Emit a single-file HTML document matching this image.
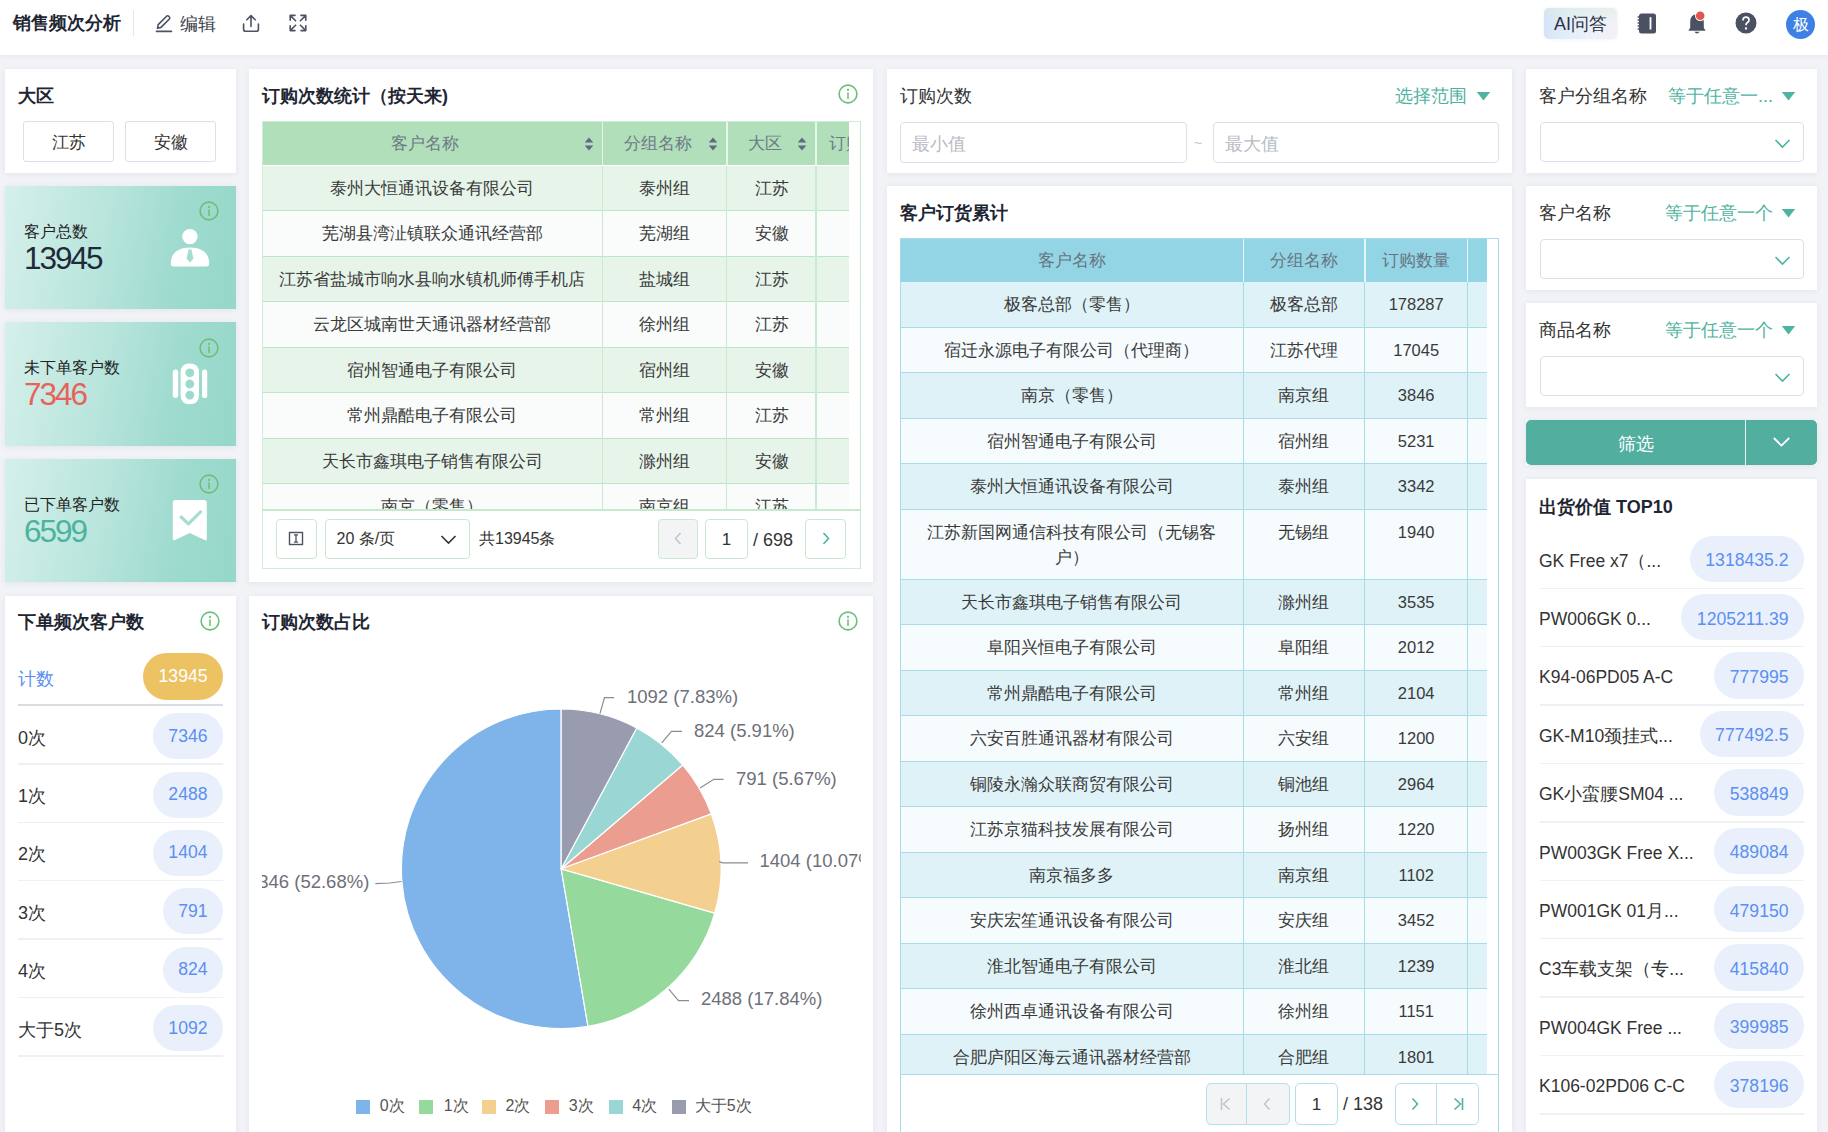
<!DOCTYPE html>
<html><head><meta charset="utf-8">
<style>
*{box-sizing:border-box;margin:0;padding:0}
html,body{width:1828px;height:1132px;overflow:hidden}
body{background:#f2f3f7;font-family:"Liberation Sans",sans-serif;color:#333;position:relative}
.abs{position:absolute}
.hdr{position:absolute;left:0;top:0;width:1828px;height:55px;background:#fff;box-shadow:0 1px 4px rgba(0,0,0,.05)}
.p{position:absolute;background:#fff;box-shadow:0 1px 6px rgba(40,40,90,.07);overflow:hidden}
.t{position:absolute;font-size:18px;font-weight:bold;color:#1f2633;white-space:nowrap;line-height:20px}
.tr{position:absolute;font-size:18px;color:#333;white-space:nowrap;line-height:20px}
.btn{position:absolute;border:1px solid #dcdfe6;border-radius:3px;background:#fff;text-align:center;font-size:17px;line-height:38px;color:#333}
.kl{position:absolute;font-size:16.4px;color:#222;line-height:18px;white-space:nowrap}
.kn{position:absolute;font-size:31.5px;line-height:36px;white-space:nowrap;letter-spacing:-2px}
.pill{position:absolute;border-radius:24px;padding:0 15.5px;font-size:17.6px;display:flex;align-items:center;white-space:nowrap}
.cell{position:absolute;top:0;height:100%;display:flex;justify-content:center;text-align:center;font-size:16px;color:#333;white-space:nowrap}
.teal{color:#4fb3a1}
</style></head><body>
<div class="hdr">
  <div class="t" style="left:13px;top:13px">销售频次分析</div>
  <div class="abs" style="left:133px;top:10px;width:1px;height:26px;background:#e6e6e6"></div>
  <svg class="abs" style="left:154px;top:13px" width="20" height="20" viewBox="0 0 20 20" fill="none" stroke="#4b5262" stroke-width="1.6" stroke-linejoin="round" stroke-linecap="round"><path d="M3.5 15.2 L4.2 11.6 L12.6 3.2 Q13.6 2.3 14.6 3.2 L15.4 4 Q16.3 5 15.4 6 L7 14.4 Z"/><path d="M2.5 18.4 H17.5"/></svg>
  <div class="tr" style="left:180px;top:14px;color:#3a3f4a;font-weight:500">编辑</div>
  <svg class="abs" style="left:241px;top:13px" width="20" height="20" viewBox="0 0 20 20" fill="none" stroke="#4b5262" stroke-width="1.6" stroke-linejoin="round" stroke-linecap="round"><path d="M10 13.5 V3 M5.8 6.8 L10 2.6 L14.2 6.8"/><path d="M2.6 11 V16.2 Q2.6 18.3 4.7 18.3 H15.3 Q17.4 18.3 17.4 16.2 V11"/></svg>
  <svg class="abs" style="left:288px;top:13px" width="20" height="20" viewBox="0 0 20 20" fill="none" stroke="#4b5262" stroke-width="1.6" stroke-linejoin="round" stroke-linecap="round"><path d="M2.2 7.2 V2.4 H7 M2.4 2.6 L7.6 7.8"/><path d="M17.8 7.2 V2.4 H13 M17.6 2.6 L12.4 7.8"/><path d="M2.2 12.8 V17.6 H7 M2.4 17.4 L7.6 12.2"/><path d="M17.8 12.8 V17.6 H13 M17.6 17.4 L12.4 12.2"/></svg>
  <div class="abs" style="left:1544px;top:8px;width:73px;height:31px;border-radius:5px;box-shadow:0 0 3px rgba(205,215,235,.45);background:linear-gradient(180deg,rgba(222,238,222,.55) 0%,rgba(255,255,255,0) 45%),linear-gradient(105deg,#d2e2f8 0%,#e4eefa 40%,#eef2f9 72%,#f5eff5 100%)"></div>
  <div class="tr" style="left:1554px;top:14px;color:#2c3140">AI问答</div>
  <svg class="abs" style="left:1636px;top:12px" width="22" height="23" viewBox="0 0 22 23"><rect x="3" y="1.4" width="17" height="20" rx="2.5" fill="#4a5162"/><rect x="13.6" y="5.2" width="1.8" height="12.3" fill="#fff"/><path d="M1.6 5 H3.5 M1.6 8 H3.5 M1.6 11 H3.5 M1.6 14 H3.5 M1.6 17 H3.5" stroke="#4a5162" stroke-width="1.4"/></svg>
  <svg class="abs" style="left:1686px;top:11px" width="22" height="24" viewBox="0 0 22 24"><path d="M11 3 Q4.2 3.6 4.2 11 V16.8 L2.4 19.8 H19.6 L17.8 16.8 V11 Q17.8 3.6 11 3 Z" fill="#4a5162"/><path d="M8.3 20.8 Q11 24 13.7 20.8 Z" fill="#4a5162"/><circle cx="14.2" cy="4.8" r="5.2" fill="#fff"/><circle cx="14.2" cy="4.8" r="4.3" fill="#e0574f"/></svg>
  <svg class="abs" style="left:1735px;top:12px" width="22" height="22" viewBox="0 0 22 22"><circle cx="11" cy="11" r="10.5" fill="#4a5162"/><path d="M8 8.4 Q8 5.2 11 5.2 Q14 5.2 14 8 Q14 9.7 12.2 10.7 Q11 11.4 11 13.3" fill="none" stroke="#fff" stroke-width="1.7"/><circle cx="11" cy="16.5" r="1.15" fill="#fff"/></svg>
  <div class="abs" style="left:1786px;top:10px;width:29px;height:29px;border-radius:50%;background:#3f80e4;color:#fff;font-size:16px;line-height:29px;text-align:center">极</div>
</div>
<div class="p" style="left:5px;top:69px;width:231px;height:104px">
  <div class="t" style="left:13px;top:17px">大区</div>
  <div class="btn" style="left:18px;top:51.5px;width:91px;height:41px;line-height:42px">江苏</div>
  <div class="btn" style="left:120px;top:51.5px;width:91px;height:41px;line-height:42px">安徽</div>
</div>
<div class="p" style="left:5px;top:186px;width:231px;height:123px;background:linear-gradient(100deg,#d5f0ea 0%,#b6e4db 45%,#9fdbcf 72%,#95d7c9 100%)">
  <div class="kl" style="left:19px;top:36px">客户总数</div>
  <div class="kn" style="left:19px;top:54px;color:#1e2a3a">13945</div>
  <svg class="abs" style="left:194px;top:15px" width="20" height="20" viewBox="0 0 20 20"><circle cx="10" cy="10" r="8.9" fill="none" stroke="#6cbf78" stroke-width="1.6"/><circle cx="10" cy="5.9" r="1.05" fill="#6cbf78"/><rect x="9.25" y="8.4" width="1.5" height="6.6" fill="#6cbf78"/></svg>
  <svg class="abs" style="left:160px;top:42px" width="50" height="40" viewBox="0 0 50 40"><circle cx="24.9" cy="8.6" r="7.7" fill="#fff"/><path d="M5.8 35.6 C5.8 25 13 19.4 25 19.4 C37 19.4 44.2 25 44.2 35.6 Q44.2 38.5 41.3 38.5 H8.7 Q5.8 38.5 5.8 35.6 Z" fill="#fff"/><path d="M23.6 21.6 H26.4 L28.5 30.6 L25 34.6 L21.5 30.6 Z" fill="#a4ddd2"/></svg>
</div>
<div class="p" style="left:5px;top:322px;width:231px;height:124px;background:linear-gradient(100deg,#d5f0ea 0%,#b6e4db 45%,#9fdbcf 72%,#95d7c9 100%)">
  <div class="kl" style="left:19px;top:36px">未下单客户数</div>
  <div class="kn" style="left:19px;top:54px;color:#e8625b">7346</div>
  <svg class="abs" style="left:194px;top:16px" width="20" height="20" viewBox="0 0 20 20"><circle cx="10" cy="10" r="8.9" fill="none" stroke="#6cbf78" stroke-width="1.6"/><circle cx="10" cy="5.9" r="1.05" fill="#6cbf78"/><rect x="9.25" y="8.4" width="1.5" height="6.6" fill="#6cbf78"/></svg>
  <svg class="abs" style="left:165px;top:38px" width="50" height="50" viewBox="0 0 50 50"><rect x="2.8" y="9.4" width="5.4" height="28.6" rx="2.7" fill="#fff"/><rect x="32" y="9.4" width="5.2" height="28.6" rx="2.6" fill="#fff"/><path fill="#fff" fill-rule="evenodd" d="M10.6 12.5 Q10.6 3.5 19.8 3.5 Q29 3.5 29 12.5 V35 Q29 44.3 19.8 44.3 Q10.6 44.3 10.6 35 Z M19.8 8.4 a4.4 4.4 0 1 0 0.01 0 Z M19.8 19.6 a4.4 4.4 0 1 0 0.01 0 Z M19.8 30.7 a4.4 4.4 0 1 0 0.01 0 Z"/></svg>
</div>
<div class="p" style="left:5px;top:459px;width:231px;height:123px;background:linear-gradient(100deg,#d5f0ea 0%,#b6e4db 45%,#9fdbcf 72%,#95d7c9 100%)">
  <div class="kl" style="left:19px;top:36px">已下单客户数</div>
  <div class="kn" style="left:19px;top:54px;color:#4cb39f">6599</div>
  <svg class="abs" style="left:194px;top:15px" width="20" height="20" viewBox="0 0 20 20"><circle cx="10" cy="10" r="8.9" fill="none" stroke="#6cbf78" stroke-width="1.6"/><circle cx="10" cy="5.9" r="1.05" fill="#6cbf78"/><rect x="9.25" y="8.4" width="1.5" height="6.6" fill="#6cbf78"/></svg>
  <svg class="abs" style="left:160px;top:38px" width="50" height="50" viewBox="0 0 50 50"><path d="M10.6 3 Q7.8 3 7.8 5.8 V42 Q7.8 44 10 43 L24.8 36 L39.6 43 Q41.8 44 41.8 42 V5.8 Q41.8 3 39 3 Z" fill="#fff"/><path d="M16.1 20 L23.4 26.9 L35.5 14.9" fill="none" stroke="#a6dcd1" stroke-width="3.2" stroke-linecap="round" stroke-linejoin="round"/></svg>
</div>
<div class="p" style="left:5px;top:596px;width:231px;height:560px">
  <div class="t" style="left:13px;top:16px">下单频次客户数</div>
  <svg class="abs" style="left:195px;top:15px" width="20" height="20" viewBox="0 0 20 20"><circle cx="10" cy="10" r="8.9" fill="none" stroke="#6cbf78" stroke-width="1.6"/><circle cx="10" cy="5.9" r="1.05" fill="#6cbf78"/><rect x="9.25" y="8.4" width="1.5" height="6.6" fill="#6cbf78"/></svg>
  <div class="abs" style="left:13px;top:73px;font-size:18px;color:#5b8ff0;line-height:20px">计数</div>
  <div class="pill" style="right:13px;top:57px;height:47px;background:#edc263;color:#fff">13945</div>
  <div class="abs" style="left:13px;top:108px;width:205px;height:2px;background:#d9dce1"></div>
  <div class="abs" style="left:13px;top:131.6px;font-size:18px;color:#333;line-height:20px">0次</div>
  <div class="pill" style="right:13px;top:117.1px;height:46px;background:#e9f0fc;color:#5b8ff0">7346</div>
  <div class="abs" style="left:13px;top:167.1px;width:205px;height:1.5px;background:#eef0f3"></div>
  <div class="abs" style="left:13px;top:190.0px;font-size:18px;color:#333;line-height:20px">1次</div>
  <div class="pill" style="right:13px;top:175.5px;height:46px;background:#e9f0fc;color:#5b8ff0">2488</div>
  <div class="abs" style="left:13px;top:225.5px;width:205px;height:1.5px;background:#eef0f3"></div>
  <div class="abs" style="left:13px;top:248.4px;font-size:18px;color:#333;line-height:20px">2次</div>
  <div class="pill" style="right:13px;top:233.9px;height:46px;background:#e9f0fc;color:#5b8ff0">1404</div>
  <div class="abs" style="left:13px;top:283.9px;width:205px;height:1.5px;background:#eef0f3"></div>
  <div class="abs" style="left:13px;top:306.8px;font-size:18px;color:#333;line-height:20px">3次</div>
  <div class="pill" style="right:13px;top:292.3px;height:46px;background:#e9f0fc;color:#5b8ff0">791</div>
  <div class="abs" style="left:13px;top:342.3px;width:205px;height:1.5px;background:#eef0f3"></div>
  <div class="abs" style="left:13px;top:365.2px;font-size:18px;color:#333;line-height:20px">4次</div>
  <div class="pill" style="right:13px;top:350.7px;height:46px;background:#e9f0fc;color:#5b8ff0">824</div>
  <div class="abs" style="left:13px;top:400.7px;width:205px;height:1.5px;background:#eef0f3"></div>
  <div class="abs" style="left:13px;top:423.6px;font-size:18px;color:#333;line-height:20px">大于5次</div>
  <div class="pill" style="right:13px;top:409.1px;height:46px;background:#e9f0fc;color:#5b8ff0">1092</div>
  <div class="abs" style="left:13px;top:459.1px;width:205px;height:1.5px;background:#eef0f3"></div>
</div>
<div class="p" style="left:249px;top:69px;width:624px;height:513px">
  <div class="t" style="left:13px;top:17px">订购次数统计（按天来)</div>
<svg class="abs" style="left:589px;top:15px" width="20" height="20" viewBox="0 0 20 20"><circle cx="10" cy="10" r="8.9" fill="none" stroke="#6cbf78" stroke-width="1.6"/><circle cx="10" cy="5.9" r="1.05" fill="#6cbf78"/><rect x="9.25" y="8.4" width="1.5" height="6.6" fill="#6cbf78"/></svg>
  <div class="abs" style="left:13px;top:52px;width:599px;height:448px;border:1px solid #d2ecd8;border-right-color:#c6e8ce"></div>
<div class="abs" style="left:14px;top:53px;width:586px;height:43px;background:#b1dfba;overflow:hidden">
<div class="abs" style="left:-8.0px;top:0;width:340.7px;height:43px;line-height:43px;text-align:center;font-size:17px;color:#6e7b87">客户名称</div>
<svg class="abs" style="left:320.7px;top:15px" width="10" height="14" viewBox="0 0 10 14"><path d="M5 0.6 L9.3 5.6 H0.7 Z M5 13.4 L9.3 8.4 H0.7 Z" fill="#5f6b80"/></svg>
<div class="abs" style="left:338.7px;top:0;width:1.5px;height:43px;background:#e8f5ea"></div>
<div class="abs" style="left:332.7px;top:0;width:124.3px;height:43px;line-height:43px;text-align:center;font-size:17px;color:#6e7b87">分组名称</div>
<svg class="abs" style="left:445.0px;top:15px" width="10" height="14" viewBox="0 0 10 14"><path d="M5 0.6 L9.3 5.6 H0.7 Z M5 13.4 L9.3 8.4 H0.7 Z" fill="#5f6b80"/></svg>
<div class="abs" style="left:463.0px;top:0;width:1.5px;height:43px;background:#e8f5ea"></div>
<div class="abs" style="left:457.0px;top:0;width:89.4px;height:43px;line-height:43px;text-align:center;font-size:17px;color:#6e7b87">大区</div>
<svg class="abs" style="left:534.4px;top:15px" width="10" height="14" viewBox="0 0 10 14"><path d="M5 0.6 L9.3 5.6 H0.7 Z M5 13.4 L9.3 8.4 H0.7 Z" fill="#5f6b80"/></svg>
<div class="abs" style="left:552.4px;top:0;width:1.5px;height:43px;background:#e8f5ea"></div>
<div class="abs" style="left:566.4px;top:0;line-height:43px;font-size:17px;color:#6e7b87;white-space:nowrap">订购次数</div>
</div>
<div class="abs" style="left:14px;top:96px;width:586px;height:2px;background:#fff"></div>
<div class="abs" style="left:14px;top:97px;width:586px;height:343px;overflow:hidden">
<div class="abs" style="left:0;top:-0.5px;width:586px;height:45.5px;background:#e6f4ea;border-bottom:1.5px solid #bfe5c8">
<div class="abs" style="left:-1.0px;top:0;width:340.7px;height:45px;line-height:45px;text-align:center;font-size:16.5px;color:#3a3a3a;white-space:nowrap">泰州大恒通讯设备有限公司</div>
<div class="abs" style="left:338.7px;top:0;width:1.2px;height:45.5px;background:#c9eacf"></div>
<div class="abs" style="left:339.7px;top:0;width:124.3px;height:45px;line-height:45px;text-align:center;font-size:16.5px;color:#3a3a3a;white-space:nowrap">泰州组</div>
<div class="abs" style="left:463.0px;top:0;width:1.2px;height:45.5px;background:#c9eacf"></div>
<div class="abs" style="left:464.0px;top:0;width:89.4px;height:45px;line-height:45px;text-align:center;font-size:16.5px;color:#3a3a3a;white-space:nowrap">江苏</div>
<div class="abs" style="left:552.4px;top:0;width:1.2px;height:45.5px;background:#c9eacf"></div>
</div>
<div class="abs" style="left:0;top:45.0px;width:586px;height:45.5px;background:#f9fcfa;border-bottom:1.5px solid #bfe5c8">
<div class="abs" style="left:-1.0px;top:0;width:340.7px;height:45px;line-height:45px;text-align:center;font-size:16.5px;color:#3a3a3a;white-space:nowrap">芜湖县湾沚镇联众通讯经营部</div>
<div class="abs" style="left:338.7px;top:0;width:1.2px;height:45.5px;background:#c9eacf"></div>
<div class="abs" style="left:339.7px;top:0;width:124.3px;height:45px;line-height:45px;text-align:center;font-size:16.5px;color:#3a3a3a;white-space:nowrap">芜湖组</div>
<div class="abs" style="left:463.0px;top:0;width:1.2px;height:45.5px;background:#c9eacf"></div>
<div class="abs" style="left:464.0px;top:0;width:89.4px;height:45px;line-height:45px;text-align:center;font-size:16.5px;color:#3a3a3a;white-space:nowrap">安徽</div>
<div class="abs" style="left:552.4px;top:0;width:1.2px;height:45.5px;background:#c9eacf"></div>
</div>
<div class="abs" style="left:0;top:90.5px;width:586px;height:45.5px;background:#e6f4ea;border-bottom:1.5px solid #bfe5c8">
<div class="abs" style="left:-1.0px;top:0;width:340.7px;height:45px;line-height:45px;text-align:center;font-size:16.5px;color:#3a3a3a;white-space:nowrap">江苏省盐城市响水县响水镇机师傅手机店</div>
<div class="abs" style="left:338.7px;top:0;width:1.2px;height:45.5px;background:#c9eacf"></div>
<div class="abs" style="left:339.7px;top:0;width:124.3px;height:45px;line-height:45px;text-align:center;font-size:16.5px;color:#3a3a3a;white-space:nowrap">盐城组</div>
<div class="abs" style="left:463.0px;top:0;width:1.2px;height:45.5px;background:#c9eacf"></div>
<div class="abs" style="left:464.0px;top:0;width:89.4px;height:45px;line-height:45px;text-align:center;font-size:16.5px;color:#3a3a3a;white-space:nowrap">江苏</div>
<div class="abs" style="left:552.4px;top:0;width:1.2px;height:45.5px;background:#c9eacf"></div>
</div>
<div class="abs" style="left:0;top:136.0px;width:586px;height:45.5px;background:#f9fcfa;border-bottom:1.5px solid #bfe5c8">
<div class="abs" style="left:-1.0px;top:0;width:340.7px;height:45px;line-height:45px;text-align:center;font-size:16.5px;color:#3a3a3a;white-space:nowrap">云龙区城南世天通讯器材经营部</div>
<div class="abs" style="left:338.7px;top:0;width:1.2px;height:45.5px;background:#c9eacf"></div>
<div class="abs" style="left:339.7px;top:0;width:124.3px;height:45px;line-height:45px;text-align:center;font-size:16.5px;color:#3a3a3a;white-space:nowrap">徐州组</div>
<div class="abs" style="left:463.0px;top:0;width:1.2px;height:45.5px;background:#c9eacf"></div>
<div class="abs" style="left:464.0px;top:0;width:89.4px;height:45px;line-height:45px;text-align:center;font-size:16.5px;color:#3a3a3a;white-space:nowrap">江苏</div>
<div class="abs" style="left:552.4px;top:0;width:1.2px;height:45.5px;background:#c9eacf"></div>
</div>
<div class="abs" style="left:0;top:181.5px;width:586px;height:45.5px;background:#e6f4ea;border-bottom:1.5px solid #bfe5c8">
<div class="abs" style="left:-1.0px;top:0;width:340.7px;height:45px;line-height:45px;text-align:center;font-size:16.5px;color:#3a3a3a;white-space:nowrap">宿州智通电子有限公司</div>
<div class="abs" style="left:338.7px;top:0;width:1.2px;height:45.5px;background:#c9eacf"></div>
<div class="abs" style="left:339.7px;top:0;width:124.3px;height:45px;line-height:45px;text-align:center;font-size:16.5px;color:#3a3a3a;white-space:nowrap">宿州组</div>
<div class="abs" style="left:463.0px;top:0;width:1.2px;height:45.5px;background:#c9eacf"></div>
<div class="abs" style="left:464.0px;top:0;width:89.4px;height:45px;line-height:45px;text-align:center;font-size:16.5px;color:#3a3a3a;white-space:nowrap">安徽</div>
<div class="abs" style="left:552.4px;top:0;width:1.2px;height:45.5px;background:#c9eacf"></div>
</div>
<div class="abs" style="left:0;top:227.0px;width:586px;height:45.5px;background:#f9fcfa;border-bottom:1.5px solid #bfe5c8">
<div class="abs" style="left:-1.0px;top:0;width:340.7px;height:45px;line-height:45px;text-align:center;font-size:16.5px;color:#3a3a3a;white-space:nowrap">常州鼎酷电子有限公司</div>
<div class="abs" style="left:338.7px;top:0;width:1.2px;height:45.5px;background:#c9eacf"></div>
<div class="abs" style="left:339.7px;top:0;width:124.3px;height:45px;line-height:45px;text-align:center;font-size:16.5px;color:#3a3a3a;white-space:nowrap">常州组</div>
<div class="abs" style="left:463.0px;top:0;width:1.2px;height:45.5px;background:#c9eacf"></div>
<div class="abs" style="left:464.0px;top:0;width:89.4px;height:45px;line-height:45px;text-align:center;font-size:16.5px;color:#3a3a3a;white-space:nowrap">江苏</div>
<div class="abs" style="left:552.4px;top:0;width:1.2px;height:45.5px;background:#c9eacf"></div>
</div>
<div class="abs" style="left:0;top:272.5px;width:586px;height:45.5px;background:#e6f4ea;border-bottom:1.5px solid #bfe5c8">
<div class="abs" style="left:-1.0px;top:0;width:340.7px;height:45px;line-height:45px;text-align:center;font-size:16.5px;color:#3a3a3a;white-space:nowrap">天长市鑫琪电子销售有限公司</div>
<div class="abs" style="left:338.7px;top:0;width:1.2px;height:45.5px;background:#c9eacf"></div>
<div class="abs" style="left:339.7px;top:0;width:124.3px;height:45px;line-height:45px;text-align:center;font-size:16.5px;color:#3a3a3a;white-space:nowrap">滁州组</div>
<div class="abs" style="left:463.0px;top:0;width:1.2px;height:45.5px;background:#c9eacf"></div>
<div class="abs" style="left:464.0px;top:0;width:89.4px;height:45px;line-height:45px;text-align:center;font-size:16.5px;color:#3a3a3a;white-space:nowrap">安徽</div>
<div class="abs" style="left:552.4px;top:0;width:1.2px;height:45.5px;background:#c9eacf"></div>
</div>
<div class="abs" style="left:0;top:318.0px;width:586px;height:45.5px;background:#f9fcfa;border-bottom:1.5px solid #bfe5c8">
<div class="abs" style="left:-1.0px;top:0;width:340.7px;height:45px;line-height:45px;text-align:center;font-size:16.5px;color:#3a3a3a;white-space:nowrap">南京（零售）</div>
<div class="abs" style="left:338.7px;top:0;width:1.2px;height:45.5px;background:#c9eacf"></div>
<div class="abs" style="left:339.7px;top:0;width:124.3px;height:45px;line-height:45px;text-align:center;font-size:16.5px;color:#3a3a3a;white-space:nowrap">南京组</div>
<div class="abs" style="left:463.0px;top:0;width:1.2px;height:45.5px;background:#c9eacf"></div>
<div class="abs" style="left:464.0px;top:0;width:89.4px;height:45px;line-height:45px;text-align:center;font-size:16.5px;color:#3a3a3a;white-space:nowrap">江苏</div>
<div class="abs" style="left:552.4px;top:0;width:1.2px;height:45.5px;background:#c9eacf"></div>
</div>
</div>
<div class="abs" style="left:13px;top:440px;width:599px;height:1.5px;background:#c6e8ce"></div>
<div class="btn" style="left:27px;top:449.5px;width:41px;height:40px;border-color:#c8e9cf;border-radius:4px"></div>
<svg class="abs" style="left:39px;top:462px" width="16" height="15" viewBox="0 0 16 15"><rect x="1.5" y="1.5" width="13" height="12" fill="none" stroke="#4b5262" stroke-width="1.4"/><path d="M8 3.5 V11.5 M6 3.8 H10 M6 11.2 H10" stroke="#4b5262" stroke-width="1.3"/></svg>
<div class="btn" style="left:75.5px;top:449.5px;width:145px;height:40px;border-color:#c8e9cf;border-radius:4px;text-align:left;padding-left:11px;font-size:16px;color:#333">20 条/页</div>
<svg class="abs" style="left:191px;top:465px" width="17" height="11" viewBox="0 0 17 11"><path d="M1.5 2 L8.5 9 L15.5 2" fill="none" stroke="#333" stroke-width="1.6"/></svg>
<div class="abs" style="left:230px;top:460px;font-size:16px;line-height:20px;color:#333">共13945条</div>
<div class="btn" style="left:409px;top:449.5px;width:40px;height:40px;border-color:#c8e9cf;border-radius:4px;background:#f3f4f6"></div>
<svg class="abs" style="left:424px;top:462px" width="10" height="15" viewBox="0 0 10 15"><path d="M7.5 2 L2.5 7.5 L7.5 13" fill="none" stroke="#c0c4cc" stroke-width="1.5"/></svg>
<div class="btn" style="left:456px;top:449.5px;width:43px;height:40px;border-color:#c8e9cf;border-radius:4px;font-size:17px;line-height:40px">1</div>
<div class="abs" style="left:504px;top:461px;font-size:18px;line-height:20px;color:#333">/ 698</div>
<div class="btn" style="left:556px;top:449.5px;width:41px;height:40px;border-color:#c8e9cf;border-radius:4px"></div>
<svg class="abs" style="left:572px;top:462px" width="10" height="15" viewBox="0 0 10 15"><path d="M2.5 2 L7.5 7.5 L2.5 13" fill="none" stroke="#4fb3a1" stroke-width="1.6"/></svg>
</div>
<div class="p" style="left:249px;top:596px;width:624px;height:560px">
  <div class="t" style="left:13px;top:16px">订购次数占比</div>
<svg class="abs" style="left:589px;top:15px" width="20" height="20" viewBox="0 0 20 20"><circle cx="10" cy="10" r="8.9" fill="none" stroke="#6cbf78" stroke-width="1.6"/><circle cx="10" cy="5.9" r="1.05" fill="#6cbf78"/><rect x="9.25" y="8.4" width="1.5" height="6.6" fill="#6cbf78"/></svg>
<div class="abs" style="left:13px;top:0;width:599px;height:560px;overflow:hidden"><svg class="abs" style="left:-13px;top:0" width="624" height="560" viewBox="0 0 624 560">
<path d="M312.20 272.80 L312.20 113.00 A159.8 159.8 0 1 0 338.97 430.34 Z" fill="#7eb4e9" stroke="#fff" stroke-width="1.2" stroke-linejoin="round"/>
<path d="M312.20 272.80 L338.97 430.34 A159.8 159.8 0 0 0 465.71 317.19 Z" fill="#95da9c" stroke="#fff" stroke-width="1.2" stroke-linejoin="round"/>
<path d="M312.20 272.80 L465.71 317.19 A159.8 159.8 0 0 0 462.25 217.84 Z" fill="#f3d08f" stroke="#fff" stroke-width="1.2" stroke-linejoin="round"/>
<path d="M312.20 272.80 L462.25 217.84 A159.8 159.8 0 0 0 433.65 168.94 Z" fill="#eb9d8f" stroke="#fff" stroke-width="1.2" stroke-linejoin="round"/>
<path d="M312.20 272.80 L433.65 168.94 A159.8 159.8 0 0 0 387.69 131.96 Z" fill="#9ad6d3" stroke="#fff" stroke-width="1.2" stroke-linejoin="round"/>
<path d="M312.20 272.80 L387.69 131.96 A159.8 159.8 0 0 0 312.20 113.00 Z" fill="#999cae" stroke="#fff" stroke-width="1.2" stroke-linejoin="round"/>
<polyline points="351.0,117.3 355.5,101.7 365.0,101.7" fill="none" stroke="#8a8d96" stroke-width="1.2"/>
<text x="378.0" y="107.3" font-size="18.5" fill="#6e7079" text-anchor="start" font-family="Liberation Sans, sans-serif">1092 (7.83%)</text>
<polyline points="412.8,146.8 422.5,135.4 433.0,135.4" fill="none" stroke="#8a8d96" stroke-width="1.2"/>
<text x="445.0" y="140.8" font-size="18.5" fill="#6e7079" text-anchor="start" font-family="Liberation Sans, sans-serif">824 (5.91%)</text>
<polyline points="451.0,192.0 464.9,183.3 474.6,183.3" fill="none" stroke="#8a8d96" stroke-width="1.2"/>
<text x="487.0" y="188.8" font-size="18.5" fill="#6e7079" text-anchor="start" font-family="Liberation Sans, sans-serif">791 (5.67%)</text>
<polyline points="470.0,265.5 473.6,266.8 499.0,266.8" fill="none" stroke="#8a8d96" stroke-width="1.2"/>
<text x="510.5" y="271.3" font-size="18.5" fill="#6e7079" text-anchor="start" font-family="Liberation Sans, sans-serif">1404 (10.07%)</text>
<polyline points="419.8,393.2 429.5,404.7 440.0,404.7" fill="none" stroke="#8a8d96" stroke-width="1.2"/>
<text x="452.0" y="408.8" font-size="18.5" fill="#6e7079" text-anchor="start" font-family="Liberation Sans, sans-serif">2488 (17.84%)</text>
<polyline points="152.5,285.5 141.0,287.0 126.3,287.6" fill="none" stroke="#8a8d96" stroke-width="1.2"/>
<text x="120.3" y="291.8" font-size="18.5" fill="#6e7079" text-anchor="end" font-family="Liberation Sans, sans-serif">7346 (52.68%)</text>
</svg></div>
<div class="abs" style="left:106.5px;top:503.7px;width:14px;height:14px;background:#7eb4e9"></div><div class="abs" style="left:130.8px;top:500px;font-size:16px;line-height:20px;color:#555;white-space:nowrap">0次</div>
<div class="abs" style="left:170.4px;top:503.7px;width:14px;height:14px;background:#95da9c"></div><div class="abs" style="left:194.7px;top:500px;font-size:16px;line-height:20px;color:#555;white-space:nowrap">1次</div>
<div class="abs" style="left:233.2px;top:503.7px;width:14px;height:14px;background:#f3d08f"></div><div class="abs" style="left:256.5px;top:500px;font-size:16px;line-height:20px;color:#555;white-space:nowrap">2次</div>
<div class="abs" style="left:295.8px;top:503.7px;width:14px;height:14px;background:#eb9d8f"></div><div class="abs" style="left:319.7px;top:500px;font-size:16px;line-height:20px;color:#555;white-space:nowrap">3次</div>
<div class="abs" style="left:359.7px;top:503.7px;width:14px;height:14px;background:#9ad6d3"></div><div class="abs" style="left:383.3px;top:500px;font-size:16px;line-height:20px;color:#555;white-space:nowrap">4次</div>
<div class="abs" style="left:422.5px;top:503.7px;width:14px;height:14px;background:#999cae"></div><div class="abs" style="left:445.8px;top:500px;font-size:16px;line-height:20px;color:#555;white-space:nowrap">大于5次</div>
</div>
<div class="p" style="left:887px;top:69px;width:625px;height:104px">
  <div class="tr" style="left:13px;top:17px">订购次数</div>
  <div class="tr teal" style="left:507.5px;top:17px">选择范围</div>
  <svg class="abs" style="left:588.5px;top:22px" width="15" height="10" viewBox="0 0 15 10"><path d="M0.8 1 H14.2 L7.5 9.4 Z" fill="#4fb3a1"/></svg>
  <div class="btn" style="left:13px;top:52.5px;width:287px;height:41px;border-radius:4px;text-align:left;padding-left:11px;padding-top:2px;color:#b8bcc4;font-size:17.5px">最小值</div>
  <div class="abs" style="left:307px;top:66px;font-size:14px;color:#c0c4cc">~</div>
  <div class="btn" style="left:326px;top:52.5px;width:286px;height:41px;border-radius:4px;text-align:left;padding-left:11px;padding-top:2px;color:#b8bcc4;font-size:17.5px">最大值</div>
</div>
<div class="p" style="left:887px;top:186px;width:625px;height:970px">
  <div class="t" style="left:13px;top:17px">客户订货累计</div>
<div class="abs" style="left:13px;top:52px;width:599.2px;height:902px;border:1px solid #a8dbe8"></div>
<div class="abs" style="left:14px;top:53px;width:586px;height:43px;background:#94d5e5"></div>
<div class="abs" style="left:13.5px;top:53px;width:342.7px;height:43px;line-height:43px;text-align:center;font-size:17px;color:#667583">客户名称</div>
<div class="abs" style="left:355.5px;top:53px;width:1.5px;height:43px;background:#e6f5f9"></div>
<div class="abs" style="left:356.2px;top:53px;width:121.6px;height:43px;line-height:43px;text-align:center;font-size:17px;color:#667583">分组名称</div>
<div class="abs" style="left:477.1px;top:53px;width:1.5px;height:43px;background:#e6f5f9"></div>
<div class="abs" style="left:477.8px;top:53px;width:102.8px;height:43px;line-height:43px;text-align:center;font-size:17px;color:#667583">订购数量</div>
<div class="abs" style="left:579.9px;top:53px;width:1.5px;height:43px;background:#e6f5f9"></div>
<div class="abs" style="left:14px;top:96px;width:586px;height:792px;overflow:hidden">
<div class="abs" style="left:0;top:0.0px;width:586px;height:45.5px;background:#dff2f7;border-bottom:1.5px solid #a9dbe9">
<div class="abs" style="left:-0.5px;top:10px;width:342.7px;line-height:25px;text-align:center;font-size:16.5px;color:#3a3a3a">极客总部（零售）</div>
<div class="abs" style="left:341.6px;top:0;width:1.2px;height:45.5px;background:#a9dbe9"></div>
<div class="abs" style="left:342.2px;top:10px;width:121.6px;line-height:25px;text-align:center;font-size:16.5px;color:#3a3a3a">极客总部</div>
<div class="abs" style="left:463.2px;top:0;width:1.2px;height:45.5px;background:#a9dbe9"></div>
<div class="abs" style="left:463.8px;top:10px;width:102.8px;line-height:25px;text-align:center;font-size:16.5px;color:#3a3a3a">178287</div>
<div class="abs" style="left:566.0px;top:0;width:1.2px;height:45.5px;background:#a9dbe9"></div>
</div>
<div class="abs" style="left:0;top:45.5px;width:586px;height:45.5px;background:#f6fbfd;border-bottom:1.5px solid #a9dbe9">
<div class="abs" style="left:-0.5px;top:10px;width:342.7px;line-height:25px;text-align:center;font-size:16.5px;color:#3a3a3a">宿迁永源电子有限公司（代理商）</div>
<div class="abs" style="left:341.6px;top:0;width:1.2px;height:45.5px;background:#a9dbe9"></div>
<div class="abs" style="left:342.2px;top:10px;width:121.6px;line-height:25px;text-align:center;font-size:16.5px;color:#3a3a3a">江苏代理</div>
<div class="abs" style="left:463.2px;top:0;width:1.2px;height:45.5px;background:#a9dbe9"></div>
<div class="abs" style="left:463.8px;top:10px;width:102.8px;line-height:25px;text-align:center;font-size:16.5px;color:#3a3a3a">17045</div>
<div class="abs" style="left:566.0px;top:0;width:1.2px;height:45.5px;background:#a9dbe9"></div>
</div>
<div class="abs" style="left:0;top:91.0px;width:586px;height:45.5px;background:#dff2f7;border-bottom:1.5px solid #a9dbe9">
<div class="abs" style="left:-0.5px;top:10px;width:342.7px;line-height:25px;text-align:center;font-size:16.5px;color:#3a3a3a">南京（零售）</div>
<div class="abs" style="left:341.6px;top:0;width:1.2px;height:45.5px;background:#a9dbe9"></div>
<div class="abs" style="left:342.2px;top:10px;width:121.6px;line-height:25px;text-align:center;font-size:16.5px;color:#3a3a3a">南京组</div>
<div class="abs" style="left:463.2px;top:0;width:1.2px;height:45.5px;background:#a9dbe9"></div>
<div class="abs" style="left:463.8px;top:10px;width:102.8px;line-height:25px;text-align:center;font-size:16.5px;color:#3a3a3a">3846</div>
<div class="abs" style="left:566.0px;top:0;width:1.2px;height:45.5px;background:#a9dbe9"></div>
</div>
<div class="abs" style="left:0;top:136.5px;width:586px;height:45.5px;background:#f6fbfd;border-bottom:1.5px solid #a9dbe9">
<div class="abs" style="left:-0.5px;top:10px;width:342.7px;line-height:25px;text-align:center;font-size:16.5px;color:#3a3a3a">宿州智通电子有限公司</div>
<div class="abs" style="left:341.6px;top:0;width:1.2px;height:45.5px;background:#a9dbe9"></div>
<div class="abs" style="left:342.2px;top:10px;width:121.6px;line-height:25px;text-align:center;font-size:16.5px;color:#3a3a3a">宿州组</div>
<div class="abs" style="left:463.2px;top:0;width:1.2px;height:45.5px;background:#a9dbe9"></div>
<div class="abs" style="left:463.8px;top:10px;width:102.8px;line-height:25px;text-align:center;font-size:16.5px;color:#3a3a3a">5231</div>
<div class="abs" style="left:566.0px;top:0;width:1.2px;height:45.5px;background:#a9dbe9"></div>
</div>
<div class="abs" style="left:0;top:182.0px;width:586px;height:45.5px;background:#dff2f7;border-bottom:1.5px solid #a9dbe9">
<div class="abs" style="left:-0.5px;top:10px;width:342.7px;line-height:25px;text-align:center;font-size:16.5px;color:#3a3a3a">泰州大恒通讯设备有限公司</div>
<div class="abs" style="left:341.6px;top:0;width:1.2px;height:45.5px;background:#a9dbe9"></div>
<div class="abs" style="left:342.2px;top:10px;width:121.6px;line-height:25px;text-align:center;font-size:16.5px;color:#3a3a3a">泰州组</div>
<div class="abs" style="left:463.2px;top:0;width:1.2px;height:45.5px;background:#a9dbe9"></div>
<div class="abs" style="left:463.8px;top:10px;width:102.8px;line-height:25px;text-align:center;font-size:16.5px;color:#3a3a3a">3342</div>
<div class="abs" style="left:566.0px;top:0;width:1.2px;height:45.5px;background:#a9dbe9"></div>
</div>
<div class="abs" style="left:0;top:227.5px;width:586px;height:70.4px;background:#f6fbfd;border-bottom:1.5px solid #a9dbe9">
<div class="abs" style="left:-0.5px;top:10px;width:342.7px;line-height:25px;text-align:center;font-size:16.5px;color:#3a3a3a">江苏新国网通信科技有限公司（无锡客<br>户）</div>
<div class="abs" style="left:341.6px;top:0;width:1.2px;height:70.4px;background:#a9dbe9"></div>
<div class="abs" style="left:342.2px;top:10px;width:121.6px;line-height:25px;text-align:center;font-size:16.5px;color:#3a3a3a">无锡组</div>
<div class="abs" style="left:463.2px;top:0;width:1.2px;height:70.4px;background:#a9dbe9"></div>
<div class="abs" style="left:463.8px;top:10px;width:102.8px;line-height:25px;text-align:center;font-size:16.5px;color:#3a3a3a">1940</div>
<div class="abs" style="left:566.0px;top:0;width:1.2px;height:70.4px;background:#a9dbe9"></div>
</div>
<div class="abs" style="left:0;top:297.9px;width:586px;height:45.5px;background:#dff2f7;border-bottom:1.5px solid #a9dbe9">
<div class="abs" style="left:-0.5px;top:10px;width:342.7px;line-height:25px;text-align:center;font-size:16.5px;color:#3a3a3a">天长市鑫琪电子销售有限公司</div>
<div class="abs" style="left:341.6px;top:0;width:1.2px;height:45.5px;background:#a9dbe9"></div>
<div class="abs" style="left:342.2px;top:10px;width:121.6px;line-height:25px;text-align:center;font-size:16.5px;color:#3a3a3a">滁州组</div>
<div class="abs" style="left:463.2px;top:0;width:1.2px;height:45.5px;background:#a9dbe9"></div>
<div class="abs" style="left:463.8px;top:10px;width:102.8px;line-height:25px;text-align:center;font-size:16.5px;color:#3a3a3a">3535</div>
<div class="abs" style="left:566.0px;top:0;width:1.2px;height:45.5px;background:#a9dbe9"></div>
</div>
<div class="abs" style="left:0;top:343.4px;width:586px;height:45.5px;background:#f6fbfd;border-bottom:1.5px solid #a9dbe9">
<div class="abs" style="left:-0.5px;top:10px;width:342.7px;line-height:25px;text-align:center;font-size:16.5px;color:#3a3a3a">阜阳兴恒电子有限公司</div>
<div class="abs" style="left:341.6px;top:0;width:1.2px;height:45.5px;background:#a9dbe9"></div>
<div class="abs" style="left:342.2px;top:10px;width:121.6px;line-height:25px;text-align:center;font-size:16.5px;color:#3a3a3a">阜阳组</div>
<div class="abs" style="left:463.2px;top:0;width:1.2px;height:45.5px;background:#a9dbe9"></div>
<div class="abs" style="left:463.8px;top:10px;width:102.8px;line-height:25px;text-align:center;font-size:16.5px;color:#3a3a3a">2012</div>
<div class="abs" style="left:566.0px;top:0;width:1.2px;height:45.5px;background:#a9dbe9"></div>
</div>
<div class="abs" style="left:0;top:388.9px;width:586px;height:45.5px;background:#dff2f7;border-bottom:1.5px solid #a9dbe9">
<div class="abs" style="left:-0.5px;top:10px;width:342.7px;line-height:25px;text-align:center;font-size:16.5px;color:#3a3a3a">常州鼎酷电子有限公司</div>
<div class="abs" style="left:341.6px;top:0;width:1.2px;height:45.5px;background:#a9dbe9"></div>
<div class="abs" style="left:342.2px;top:10px;width:121.6px;line-height:25px;text-align:center;font-size:16.5px;color:#3a3a3a">常州组</div>
<div class="abs" style="left:463.2px;top:0;width:1.2px;height:45.5px;background:#a9dbe9"></div>
<div class="abs" style="left:463.8px;top:10px;width:102.8px;line-height:25px;text-align:center;font-size:16.5px;color:#3a3a3a">2104</div>
<div class="abs" style="left:566.0px;top:0;width:1.2px;height:45.5px;background:#a9dbe9"></div>
</div>
<div class="abs" style="left:0;top:434.4px;width:586px;height:45.5px;background:#f6fbfd;border-bottom:1.5px solid #a9dbe9">
<div class="abs" style="left:-0.5px;top:10px;width:342.7px;line-height:25px;text-align:center;font-size:16.5px;color:#3a3a3a">六安百胜通讯器材有限公司</div>
<div class="abs" style="left:341.6px;top:0;width:1.2px;height:45.5px;background:#a9dbe9"></div>
<div class="abs" style="left:342.2px;top:10px;width:121.6px;line-height:25px;text-align:center;font-size:16.5px;color:#3a3a3a">六安组</div>
<div class="abs" style="left:463.2px;top:0;width:1.2px;height:45.5px;background:#a9dbe9"></div>
<div class="abs" style="left:463.8px;top:10px;width:102.8px;line-height:25px;text-align:center;font-size:16.5px;color:#3a3a3a">1200</div>
<div class="abs" style="left:566.0px;top:0;width:1.2px;height:45.5px;background:#a9dbe9"></div>
</div>
<div class="abs" style="left:0;top:479.9px;width:586px;height:45.5px;background:#dff2f7;border-bottom:1.5px solid #a9dbe9">
<div class="abs" style="left:-0.5px;top:10px;width:342.7px;line-height:25px;text-align:center;font-size:16.5px;color:#3a3a3a">铜陵永瀚众联商贸有限公司</div>
<div class="abs" style="left:341.6px;top:0;width:1.2px;height:45.5px;background:#a9dbe9"></div>
<div class="abs" style="left:342.2px;top:10px;width:121.6px;line-height:25px;text-align:center;font-size:16.5px;color:#3a3a3a">铜池组</div>
<div class="abs" style="left:463.2px;top:0;width:1.2px;height:45.5px;background:#a9dbe9"></div>
<div class="abs" style="left:463.8px;top:10px;width:102.8px;line-height:25px;text-align:center;font-size:16.5px;color:#3a3a3a">2964</div>
<div class="abs" style="left:566.0px;top:0;width:1.2px;height:45.5px;background:#a9dbe9"></div>
</div>
<div class="abs" style="left:0;top:525.4px;width:586px;height:45.5px;background:#f6fbfd;border-bottom:1.5px solid #a9dbe9">
<div class="abs" style="left:-0.5px;top:10px;width:342.7px;line-height:25px;text-align:center;font-size:16.5px;color:#3a3a3a">江苏京猫科技发展有限公司</div>
<div class="abs" style="left:341.6px;top:0;width:1.2px;height:45.5px;background:#a9dbe9"></div>
<div class="abs" style="left:342.2px;top:10px;width:121.6px;line-height:25px;text-align:center;font-size:16.5px;color:#3a3a3a">扬州组</div>
<div class="abs" style="left:463.2px;top:0;width:1.2px;height:45.5px;background:#a9dbe9"></div>
<div class="abs" style="left:463.8px;top:10px;width:102.8px;line-height:25px;text-align:center;font-size:16.5px;color:#3a3a3a">1220</div>
<div class="abs" style="left:566.0px;top:0;width:1.2px;height:45.5px;background:#a9dbe9"></div>
</div>
<div class="abs" style="left:0;top:570.9px;width:586px;height:45.5px;background:#dff2f7;border-bottom:1.5px solid #a9dbe9">
<div class="abs" style="left:-0.5px;top:10px;width:342.7px;line-height:25px;text-align:center;font-size:16.5px;color:#3a3a3a">南京福多多</div>
<div class="abs" style="left:341.6px;top:0;width:1.2px;height:45.5px;background:#a9dbe9"></div>
<div class="abs" style="left:342.2px;top:10px;width:121.6px;line-height:25px;text-align:center;font-size:16.5px;color:#3a3a3a">南京组</div>
<div class="abs" style="left:463.2px;top:0;width:1.2px;height:45.5px;background:#a9dbe9"></div>
<div class="abs" style="left:463.8px;top:10px;width:102.8px;line-height:25px;text-align:center;font-size:16.5px;color:#3a3a3a">1102</div>
<div class="abs" style="left:566.0px;top:0;width:1.2px;height:45.5px;background:#a9dbe9"></div>
</div>
<div class="abs" style="left:0;top:616.4px;width:586px;height:45.5px;background:#f6fbfd;border-bottom:1.5px solid #a9dbe9">
<div class="abs" style="left:-0.5px;top:10px;width:342.7px;line-height:25px;text-align:center;font-size:16.5px;color:#3a3a3a">安庆宏笙通讯设备有限公司</div>
<div class="abs" style="left:341.6px;top:0;width:1.2px;height:45.5px;background:#a9dbe9"></div>
<div class="abs" style="left:342.2px;top:10px;width:121.6px;line-height:25px;text-align:center;font-size:16.5px;color:#3a3a3a">安庆组</div>
<div class="abs" style="left:463.2px;top:0;width:1.2px;height:45.5px;background:#a9dbe9"></div>
<div class="abs" style="left:463.8px;top:10px;width:102.8px;line-height:25px;text-align:center;font-size:16.5px;color:#3a3a3a">3452</div>
<div class="abs" style="left:566.0px;top:0;width:1.2px;height:45.5px;background:#a9dbe9"></div>
</div>
<div class="abs" style="left:0;top:661.9px;width:586px;height:45.5px;background:#dff2f7;border-bottom:1.5px solid #a9dbe9">
<div class="abs" style="left:-0.5px;top:10px;width:342.7px;line-height:25px;text-align:center;font-size:16.5px;color:#3a3a3a">淮北智通电子有限公司</div>
<div class="abs" style="left:341.6px;top:0;width:1.2px;height:45.5px;background:#a9dbe9"></div>
<div class="abs" style="left:342.2px;top:10px;width:121.6px;line-height:25px;text-align:center;font-size:16.5px;color:#3a3a3a">淮北组</div>
<div class="abs" style="left:463.2px;top:0;width:1.2px;height:45.5px;background:#a9dbe9"></div>
<div class="abs" style="left:463.8px;top:10px;width:102.8px;line-height:25px;text-align:center;font-size:16.5px;color:#3a3a3a">1239</div>
<div class="abs" style="left:566.0px;top:0;width:1.2px;height:45.5px;background:#a9dbe9"></div>
</div>
<div class="abs" style="left:0;top:707.4px;width:586px;height:45.5px;background:#f6fbfd;border-bottom:1.5px solid #a9dbe9">
<div class="abs" style="left:-0.5px;top:10px;width:342.7px;line-height:25px;text-align:center;font-size:16.5px;color:#3a3a3a">徐州西卓通讯设备有限公司</div>
<div class="abs" style="left:341.6px;top:0;width:1.2px;height:45.5px;background:#a9dbe9"></div>
<div class="abs" style="left:342.2px;top:10px;width:121.6px;line-height:25px;text-align:center;font-size:16.5px;color:#3a3a3a">徐州组</div>
<div class="abs" style="left:463.2px;top:0;width:1.2px;height:45.5px;background:#a9dbe9"></div>
<div class="abs" style="left:463.8px;top:10px;width:102.8px;line-height:25px;text-align:center;font-size:16.5px;color:#3a3a3a">1151</div>
<div class="abs" style="left:566.0px;top:0;width:1.2px;height:45.5px;background:#a9dbe9"></div>
</div>
<div class="abs" style="left:0;top:752.9px;width:586px;height:45.5px;background:#dff2f7;border-bottom:1.5px solid #a9dbe9">
<div class="abs" style="left:-0.5px;top:10px;width:342.7px;line-height:25px;text-align:center;font-size:16.5px;color:#3a3a3a">合肥庐阳区海云通讯器材经营部</div>
<div class="abs" style="left:341.6px;top:0;width:1.2px;height:45.5px;background:#a9dbe9"></div>
<div class="abs" style="left:342.2px;top:10px;width:121.6px;line-height:25px;text-align:center;font-size:16.5px;color:#3a3a3a">合肥组</div>
<div class="abs" style="left:463.2px;top:0;width:1.2px;height:45.5px;background:#a9dbe9"></div>
<div class="abs" style="left:463.8px;top:10px;width:102.8px;line-height:25px;text-align:center;font-size:16.5px;color:#3a3a3a">1801</div>
<div class="abs" style="left:566.0px;top:0;width:1.2px;height:45.5px;background:#a9dbe9"></div>
</div>
<div class="abs" style="left:0;top:798.4px;width:586px;height:45.5px;background:#f6fbfd;border-bottom:1.5px solid #a9dbe9">
<div class="abs" style="left:341.6px;top:0;width:1.2px;height:45.5px;background:#a9dbe9"></div>
<div class="abs" style="left:463.2px;top:0;width:1.2px;height:45.5px;background:#a9dbe9"></div>
<div class="abs" style="left:566.0px;top:0;width:1.2px;height:45.5px;background:#a9dbe9"></div>
</div>
</div>
<div class="abs" style="left:13px;top:887.5px;width:599px;height:1.5px;background:#a8dbe8"></div>
<div class="abs" style="left:319px;top:897px;width:84px;height:42px;border:1.2px solid #b3dfe9;border-radius:5px;background:#f3f4f6"></div>
<div class="abs" style="left:359px;top:897px;width:1.2px;height:42px;background:#b3dfe9"></div>
<svg class="abs" style="left:332px;top:911px" width="14" height="14" viewBox="0 0 14 14"><path d="M2.5 1 V13 M10.5 1.5 L4.5 7 L10.5 12.5" fill="none" stroke="#c0c4cc" stroke-width="1.5"/></svg>
<svg class="abs" style="left:375px;top:911px" width="10" height="14" viewBox="0 0 10 14"><path d="M7.5 1.5 L2.5 7 L7.5 12.5" fill="none" stroke="#c0c4cc" stroke-width="1.5"/></svg>
<div class="abs" style="left:408px;top:897px;width:43px;height:42px;border:1.2px solid #b3dfe9;border-radius:5px;text-align:center;line-height:42px;font-size:17px;color:#333">1</div>
<div class="abs" style="left:456px;top:908px;font-size:18px;line-height:20px;color:#333">/ 138</div>
<div class="abs" style="left:508px;top:897px;width:84px;height:42px;border:1.2px solid #b3dfe9;border-radius:5px"></div>
<div class="abs" style="left:549px;top:897px;width:1.2px;height:42px;background:#b3dfe9"></div>
<svg class="abs" style="left:523px;top:911px" width="10" height="14" viewBox="0 0 10 14"><path d="M2.5 1.5 L7.5 7 L2.5 12.5" fill="none" stroke="#4fb3a1" stroke-width="1.6"/></svg>
<svg class="abs" style="left:564px;top:911px" width="14" height="14" viewBox="0 0 14 14"><path d="M11.5 1 V13 M3.5 1.5 L9.5 7 L3.5 12.5" fill="none" stroke="#4fb3a1" stroke-width="1.6"/></svg>
</div>
<div class="p" style="left:1526px;top:69px;width:291px;height:104px">
  <div class="tr" style="left:13px;top:17px">客户分组名称</div>
  <div class="tr teal" style="left:142px;top:17px">等于任意一...</div>
  <svg class="abs" style="left:255px;top:22px" width="15" height="10" viewBox="0 0 15 10"><path d="M0.8 1 H14.2 L7.5 9.4 Z" fill="#4fb3a1"/></svg>
  <div class="btn" style="left:13.5px;top:52.5px;width:264.5px;height:40.5px;border-radius:4px"></div>
  <svg class="abs" style="left:248px;top:69px" width="17" height="11" viewBox="0 0 17 11"><path d="M1.5 2 L8.5 9 L15.5 2" fill="none" stroke="#4fb3a1" stroke-width="1.6"/></svg>
</div>
<div class="p" style="left:1526px;top:186px;width:291px;height:104px">
  <div class="tr" style="left:13px;top:17px">客户名称</div>
  <div class="tr teal" style="left:138.5px;top:17px">等于任意一个</div>
  <svg class="abs" style="left:255px;top:22px" width="15" height="10" viewBox="0 0 15 10"><path d="M0.8 1 H14.2 L7.5 9.4 Z" fill="#4fb3a1"/></svg>
  <div class="btn" style="left:13.5px;top:52.5px;width:264.5px;height:40.5px;border-radius:4px"></div>
  <svg class="abs" style="left:248px;top:69px" width="17" height="11" viewBox="0 0 17 11"><path d="M1.5 2 L8.5 9 L15.5 2" fill="none" stroke="#4fb3a1" stroke-width="1.6"/></svg>
</div>
<div class="p" style="left:1526px;top:303px;width:291px;height:104px">
  <div class="tr" style="left:13px;top:17px">商品名称</div>
  <div class="tr teal" style="left:138.5px;top:17px">等于任意一个</div>
  <svg class="abs" style="left:255px;top:22px" width="15" height="10" viewBox="0 0 15 10"><path d="M0.8 1 H14.2 L7.5 9.4 Z" fill="#4fb3a1"/></svg>
  <div class="btn" style="left:13.5px;top:52.5px;width:264.5px;height:40.5px;border-radius:4px"></div>
  <svg class="abs" style="left:248px;top:69px" width="17" height="11" viewBox="0 0 17 11"><path d="M1.5 2 L8.5 9 L15.5 2" fill="none" stroke="#4fb3a1" stroke-width="1.6"/></svg>
</div>
<div class="abs" style="left:1526px;top:420px;width:291px;height:45px;background:#fff;box-shadow:0 1px 6px rgba(40,40,90,.07)"></div>
<div class="abs" style="left:1526px;top:420px;width:291px;height:45px;background:#52ae9f;border-radius:5px"></div>
<div class="abs" style="left:1526px;top:420px;width:219px;height:45px;line-height:49px;text-align:center;font-size:18px;color:#fff">筛选</div>
<div class="abs" style="left:1745px;top:420px;width:1.3px;height:45px;background:#e8f4f1"></div>
<svg class="abs" style="left:1772px;top:436px" width="19" height="12" viewBox="0 0 19 12"><path d="M1.8 2 L9.5 9.6 L17.2 2" fill="none" stroke="#fff" stroke-width="1.8"/></svg>
<div class="p" style="left:1526px;top:479px;width:291px;height:700px">
  <div class="t" style="left:13px;top:17.5px">出货价值 TOP10</div>
  <div class="abs" style="left:13px;top:71.5px;font-size:17.5px;color:#333;line-height:20px;white-space:nowrap">GK Free x7（...</div>
  <div class="pill" style="right:13px;top:56.5px;height:46.5px;background:#e9f0fc;color:#5b8ff0;padding-top:4px">1318435.2</div>
  <div class="abs" style="left:13.5px;top:108.5px;width:264px;height:1.5px;background:#eef0f3"></div>
  <div class="abs" style="left:13px;top:129.9px;font-size:17.5px;color:#333;line-height:20px;white-space:nowrap">PW006GK 0...</div>
  <div class="pill" style="right:13px;top:114.9px;height:46.5px;background:#e9f0fc;color:#5b8ff0;padding-top:4px">1205211.39</div>
  <div class="abs" style="left:13.5px;top:166.9px;width:264px;height:1.5px;background:#eef0f3"></div>
  <div class="abs" style="left:13px;top:188.3px;font-size:17.5px;color:#333;line-height:20px;white-space:nowrap">K94-06PD05 A-C</div>
  <div class="pill" style="right:13px;top:173.3px;height:46.5px;background:#e9f0fc;color:#5b8ff0;padding-top:4px">777995</div>
  <div class="abs" style="left:13.5px;top:225.3px;width:264px;height:1.5px;background:#eef0f3"></div>
  <div class="abs" style="left:13px;top:246.7px;font-size:17.5px;color:#333;line-height:20px;white-space:nowrap">GK-M10颈挂式...</div>
  <div class="pill" style="right:13px;top:231.7px;height:46.5px;background:#e9f0fc;color:#5b8ff0;padding-top:4px">777492.5</div>
  <div class="abs" style="left:13.5px;top:283.7px;width:264px;height:1.5px;background:#eef0f3"></div>
  <div class="abs" style="left:13px;top:305.1px;font-size:17.5px;color:#333;line-height:20px;white-space:nowrap">GK小蛮腰SM04 ...</div>
  <div class="pill" style="right:13px;top:290.1px;height:46.5px;background:#e9f0fc;color:#5b8ff0;padding-top:4px">538849</div>
  <div class="abs" style="left:13.5px;top:342.1px;width:264px;height:1.5px;background:#eef0f3"></div>
  <div class="abs" style="left:13px;top:363.5px;font-size:17.5px;color:#333;line-height:20px;white-space:nowrap">PW003GK Free X...</div>
  <div class="pill" style="right:13px;top:348.5px;height:46.5px;background:#e9f0fc;color:#5b8ff0;padding-top:4px">489084</div>
  <div class="abs" style="left:13.5px;top:400.5px;width:264px;height:1.5px;background:#eef0f3"></div>
  <div class="abs" style="left:13px;top:421.9px;font-size:17.5px;color:#333;line-height:20px;white-space:nowrap">PW001GK 01月...</div>
  <div class="pill" style="right:13px;top:406.9px;height:46.5px;background:#e9f0fc;color:#5b8ff0;padding-top:4px">479150</div>
  <div class="abs" style="left:13.5px;top:458.9px;width:264px;height:1.5px;background:#eef0f3"></div>
  <div class="abs" style="left:13px;top:480.3px;font-size:17.5px;color:#333;line-height:20px;white-space:nowrap">C3车载支架（专...</div>
  <div class="pill" style="right:13px;top:465.3px;height:46.5px;background:#e9f0fc;color:#5b8ff0;padding-top:4px">415840</div>
  <div class="abs" style="left:13.5px;top:517.3px;width:264px;height:1.5px;background:#eef0f3"></div>
  <div class="abs" style="left:13px;top:538.7px;font-size:17.5px;color:#333;line-height:20px;white-space:nowrap">PW004GK Free ...</div>
  <div class="pill" style="right:13px;top:523.7px;height:46.5px;background:#e9f0fc;color:#5b8ff0;padding-top:4px">399985</div>
  <div class="abs" style="left:13.5px;top:575.7px;width:264px;height:1.5px;background:#eef0f3"></div>
  <div class="abs" style="left:13px;top:597.1px;font-size:17.5px;color:#333;line-height:20px;white-space:nowrap">K106-02PD06 C-C</div>
  <div class="pill" style="right:13px;top:582.1px;height:46.5px;background:#e9f0fc;color:#5b8ff0;padding-top:4px">378196</div>
  <div class="abs" style="left:13.5px;top:634.1px;width:264px;height:1.5px;background:#eef0f3"></div>
</div>
</body></html>
